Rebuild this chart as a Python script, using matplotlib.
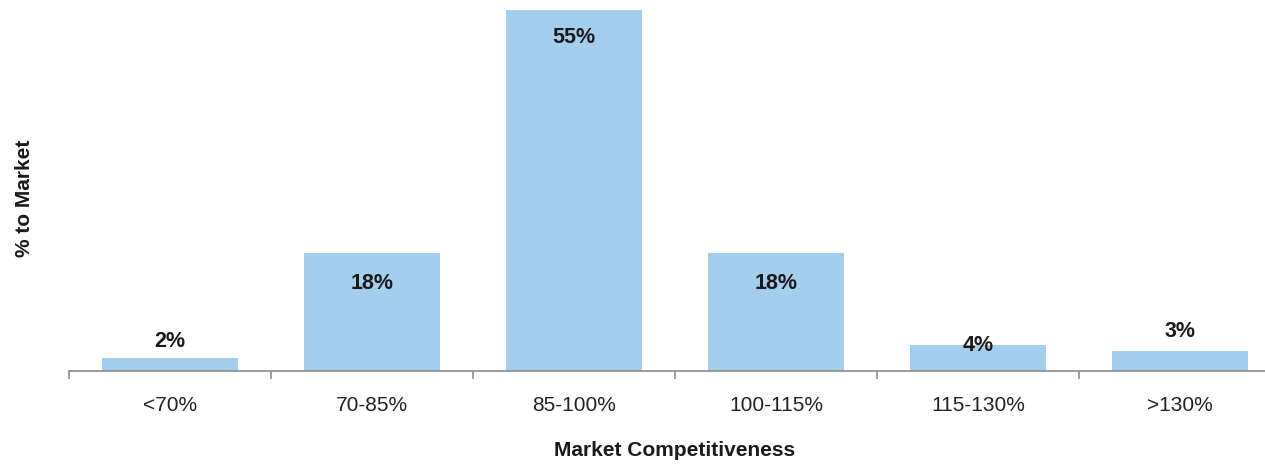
import matplotlib
matplotlib.use("Agg")
import matplotlib.pyplot as plt
from matplotlib import font_manager

categories = ["<70%", "70-85%", "85-100%", "100-115%", "115-130%", ">130%"]
values = [2, 18, 55, 18, 4, 3]
value_labels = ["2%", "18%", "55%", "18%", "4%", "3%"]

# label offsets in pixels relative to bar top (style only)
label_offsets = [16, -31, -28, -31, -1, 20]

names = {f.name for f in font_manager.fontManager.ttflist}
fam = "Liberation Sans Narrow" if "Liberation Sans Narrow" in names else "Liberation Sans"
plt.rcParams["font.family"] = [fam, "DejaVu Sans"]

fig = plt.figure(figsize=(12.65, 4.65), dpi=100)
ax = fig.add_axes([69 / 1265, 1 - 371 / 465, (1281 - 69) / 1265, 371 / 465])

x = list(range(len(categories)))
ax.bar(x, values, width=0.675, color="#A3CFEC", edgecolor="none")
ax.set_xlim(-0.5, len(categories) - 0.5)
ax.set_ylim(0, 56.5)

for xi, v, lab, off in zip(x, values, value_labels, label_offsets):
    ax.annotate(lab, (xi, v), xytext=(0, off * 0.72), textcoords="offset points",
                ha="center", va="center", fontsize=15.5, fontweight="bold", color="#1a1a1a")

for s in ["top", "right", "left"]:
    ax.spines[s].set_visible(False)
ax.spines["bottom"].set_color("#8c8c8c")
ax.spines["bottom"].set_linewidth(1.2)
ax.set_yticks([])

ax.set_xticks(x)
ax.set_xticklabels(categories, fontsize=15, color="#222222")
ax.tick_params(axis="x", which="major", length=0, pad=18)
ax.set_xticks([i - 0.5 for i in range(len(categories) + 1)], minor=True)
ax.tick_params(axis="x", which="minor", length=6, width=1.2, color="#8c8c8c")

fig.text(675 / 1265, 1 - 450 / 465, "Market Competitiveness", ha="center", va="center",
         fontsize=15, fontweight="bold", color="#1a1a1a")
fig.text(25 / 1265, 1 - 198 / 465, "% to Market", ha="center", va="center", rotation=90,
         fontsize=15, fontweight="bold", color="#1a1a1a")

fig.savefig("out.png", dpi=100)
